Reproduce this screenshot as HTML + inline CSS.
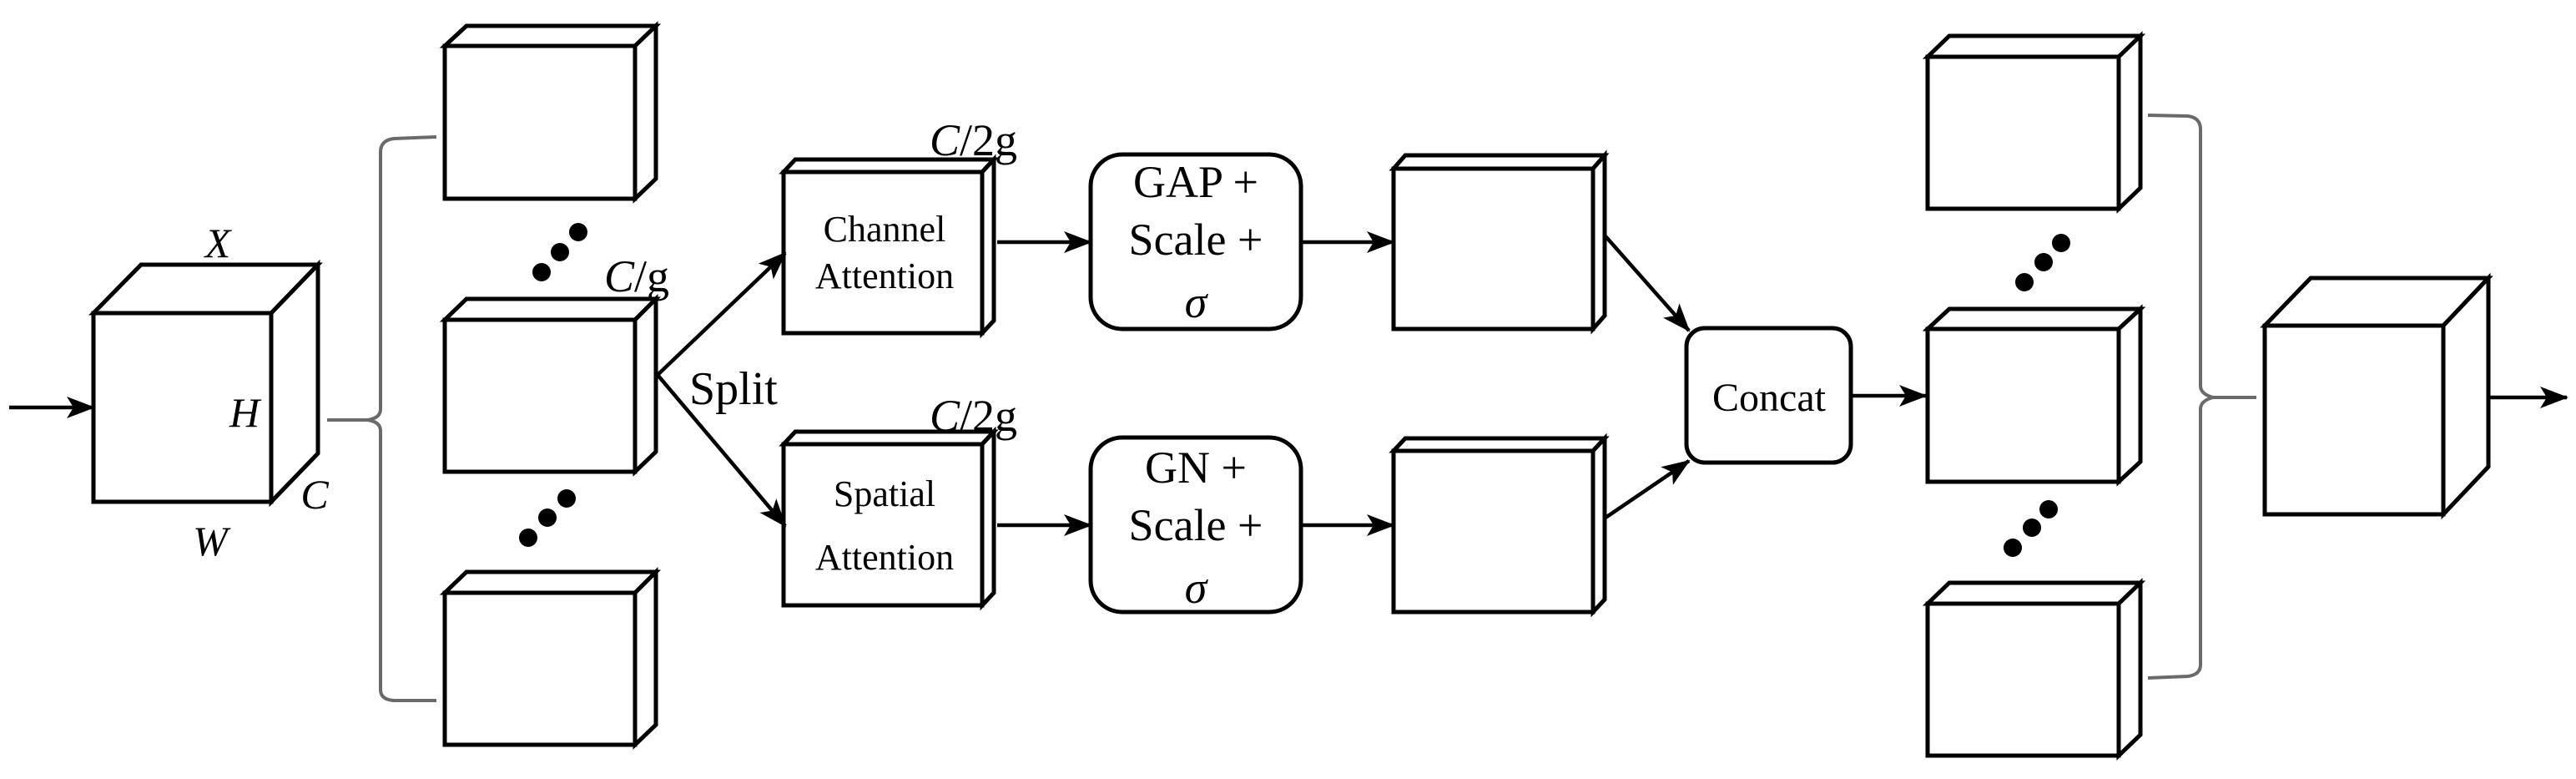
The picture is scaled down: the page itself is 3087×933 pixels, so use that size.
<!DOCTYPE html>
<html><head><meta charset="utf-8"><style>
html,body{margin:0;padding:0;background:#fff}
svg{display:block}
text{font-family:"Liberation Serif","Times New Roman",serif;fill:#000}
</style></head><body>
<svg width="3087" height="933" viewBox="0 0 3087 933" xmlns="http://www.w3.org/2000/svg" font-family="Liberation Serif, serif">
<defs>
<marker id="a" markerUnits="userSpaceOnUse" markerWidth="34" markerHeight="26" refX="32" refY="13" orient="auto">
<path d="M0,0 L34,13 L0,26 L8,13 Z" fill="#000"/>
</marker>
</defs>
<g fill="#fff" stroke="#000" stroke-width="5" stroke-linejoin="miter">
<polygon points="112,375 169,317 381,317 325,375"/>
<polygon points="325,375 381,317 381,543 325,601"/>
<rect x="112" y="375" width="213" height="226"/>
<polygon points="533,55 559,31 786,31 761,55"/><polygon points="761,55 786,31 786,214 761,238"/><rect x="533" y="55" width="228" height="183"/>
<polygon points="533,383 559,358 786,358 761,383"/><polygon points="761,383 786,358 786,541 761,565"/><rect x="533" y="383" width="228" height="182"/>
<polygon points="533,710 559,685 786,685 761,710"/><polygon points="761,710 786,685 786,868 761,892"/><rect x="533" y="710" width="228" height="182"/>
<polygon points="939,206 953,191 1191,191 1177,206"/><polygon points="1177,206 1191,191 1191,384 1177,399"/><rect x="939" y="206" width="238" height="193"/>
<polygon points="939,532 953,517 1191,517 1177,532"/><polygon points="1177,532 1191,517 1191,710 1177,725"/><rect x="939" y="532" width="238" height="193"/>
<rect x="1307" y="185" width="252" height="209" rx="38"/>
<rect x="1307" y="524" width="252" height="209" rx="38"/>
<polygon points="1670,202 1684,186 1923,186 1909,202"/><polygon points="1909,202 1923,186 1923,378 1909,394"/><rect x="1670" y="202" width="239" height="192"/>
<polygon points="1670,540 1684,525 1923,525 1909,540"/><polygon points="1909,540 1923,525 1923,718 1909,733"/><rect x="1670" y="540" width="239" height="193"/>
<rect x="2021" y="393" width="197" height="161" rx="22"/>
<polygon points="2310,68 2336,43 2565,43 2539,68"/><polygon points="2539,68 2565,43 2565,225 2539,250"/><rect x="2310" y="68" width="229" height="182"/>
<polygon points="2310,394 2336,370 2565,370 2539,394"/><polygon points="2539,394 2565,370 2565,553 2539,577"/><rect x="2310" y="394" width="229" height="183"/>
<polygon points="2310,723 2336,698 2565,698 2539,723"/><polygon points="2539,723 2565,698 2565,880 2539,905"/><rect x="2310" y="723" width="229" height="182"/>
<polygon points="2714,390 2769,333 2982,333 2928,390"/><polygon points="2928,390 2982,333 2982,559 2928,616"/><rect x="2714" y="390" width="214" height="226"/>
</g>
<g fill="none" stroke="#6a6a6a" stroke-width="4">
<path d="M523,164 L472,166 Q456,168 456,182 L456,490 Q456,501 440,503 L392,503 M440,503 Q456,505 456,516 L456,826 Q456,838 472,839 L523,839"/>
<path d="M2574,138 L2622,139 Q2637,141 2637,155 L2637,462 Q2637,472 2652,476 L2704,476 M2652,476 Q2637,480 2637,490 L2637,796 Q2637,808 2622,810 L2574,812"/>
</g>
<g stroke="#000" stroke-width="4.5" fill="none" marker-end="url(#a)">
<line x1="11" y1="488" x2="112" y2="488"/>
<line x1="788" y1="449" x2="941" y2="303"/>
<line x1="788" y1="449" x2="941" y2="630"/>
<line x1="1195" y1="290" x2="1307" y2="290"/>
<line x1="1195" y1="629" x2="1307" y2="629"/>
<line x1="1560" y1="290" x2="1670" y2="290"/>
<line x1="1560" y1="629" x2="1670" y2="629"/>
<line x1="1924" y1="283" x2="2024" y2="396"/>
<line x1="1924" y1="620" x2="2024" y2="552"/>
<line x1="2218" y1="474" x2="2308" y2="474"/>
<line x1="2983" y1="476" x2="3076" y2="476"/>
</g>
<g fill="#000">
<circle cx="649" cy="326" r="11"/><circle cx="671" cy="302" r="11"/><circle cx="693" cy="278" r="11"/>
<circle cx="633" cy="644" r="11"/><circle cx="656" cy="620" r="11"/><circle cx="679" cy="597" r="11"/>
<circle cx="2426" cy="338" r="11"/><circle cx="2449" cy="314" r="11"/><circle cx="2470" cy="291" r="11"/>
<circle cx="2412" cy="656" r="11"/><circle cx="2435" cy="632" r="11"/><circle cx="2455" cy="610" r="11"/>
</g>
<g font-size="50" font-style="italic" text-anchor="middle">
<text x="261" y="308">X</text>
<text x="293" y="511">H</text>
<text x="377" y="609">C</text>
<text x="252" y="665">W</text>
</g>
<text x="724" y="349" font-size="54"><tspan font-style="italic">C</tspan>/g</text>
<text x="1114" y="186" font-size="54"><tspan font-style="italic">C</tspan>/2g</text>
<text x="1114" y="516" font-size="54"><tspan font-style="italic">C</tspan>/2g</text>
<text x="826" y="484" font-size="56">Split</text>
<g font-size="44" text-anchor="middle">
<text x="1060" y="289">Channel</text>
<text x="1060" y="345">Attention</text>
<text x="1060" y="606">Spatial</text>
<text x="1060" y="682">Attention</text>
</g>
<g font-size="54" text-anchor="middle">
<text x="1433" y="236">GAP +</text>
<text x="1433" y="305">Scale +</text>
<text x="1433" y="380" font-style="italic">σ</text>
<text x="1433" y="578">GN +</text>
<text x="1433" y="647">Scale +</text>
<text x="1433" y="722" font-style="italic">σ</text>
<text x="2120" y="492" font-size="48">Concat</text>
</g>
</svg>
</body></html>
